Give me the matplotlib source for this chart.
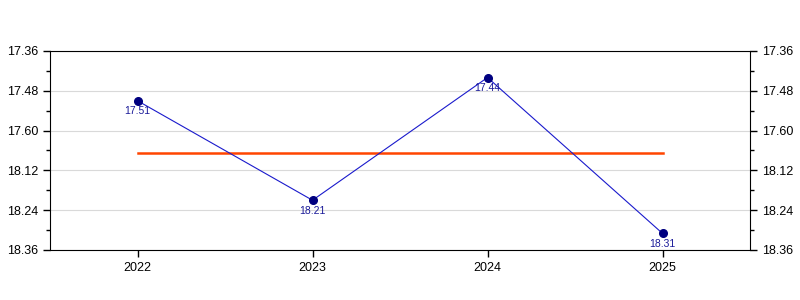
import matplotlib
matplotlib.use("Agg")
from matplotlib import pyplot as plt
from matplotlib.ticker import MultipleLocator

years = ["2022", "2023", "2024", "2025"]
times = ["17.51", "18.21", "17.44", "18.31"]  # minutes.seconds
y_tick_labels = ["17.36", "17.48", "17.60", "18.12", "18.24", "18.36"]


def to_seconds(s):
    m, sec = s.split(".")
    return int(m) * 60 + int(sec)


plt.rcParams['font.family'] = ['Liberation Sans', 'DejaVu Sans']

secs = [to_seconds(t) for t in times]
avg = sum(secs) / len(secs)
tick_secs = [to_seconds(t) for t in y_tick_labels]
x = list(range(len(years)))

fig = plt.figure(figsize=(8, 3), dpi=100)
ax = fig.add_axes([0.0625, 0.1667, 0.875, 0.6633])

ax.plot(x, secs, color="#1a1acc", linewidth=0.8, zorder=3)
ax.plot(x, secs, "o", color="#000080", markersize=5.5, zorder=4)
ax.plot([x[0], x[-1]], [avg, avg], color="#ff4500", linewidth=1.8, zorder=2)

for xi, s, t in zip(x, secs, times):
    ax.annotate(t, (xi, s), xytext=(0, -4), textcoords="offset points",
                ha="center", va="top", fontsize=7.5, color="#1a1a99", zorder=5)

ax.set_xlim(-0.5, len(years) - 0.5)
ax.set_xticks(x)
ax.set_xticklabels(years, fontsize=9)
ax.set_ylim(tick_secs[-1], tick_secs[0])
ax.set_yticks(tick_secs)
ax.set_yticklabels(y_tick_labels, fontsize=9)
ax.yaxis.set_minor_locator(MultipleLocator(6))
ax.tick_params(axis="y", which="both", left=True, right=True, labelleft=True, labelright=True)
ax.tick_params(axis="both", which="major", length=5, width=1)
ax.tick_params(axis="y", which="minor", length=3, width=1)
ax.grid(axis="y", which="major", color="#d9d9d9", linewidth=0.8)
ax.set_axisbelow(True)

fig.savefig("out.png")
